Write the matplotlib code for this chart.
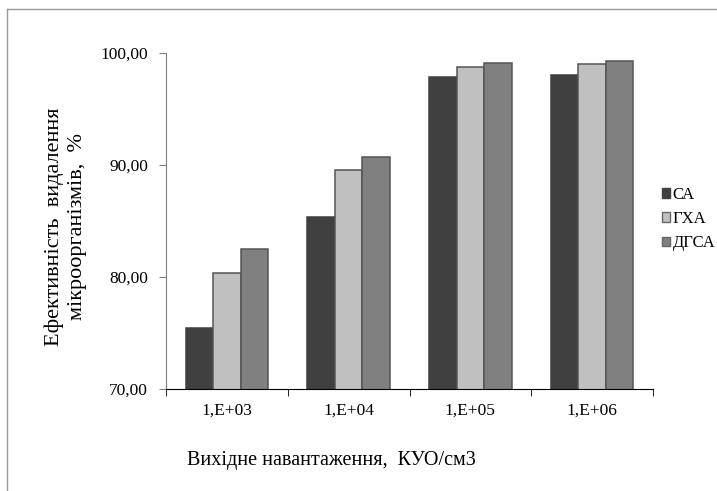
import numpy as np
import matplotlib.pyplot as plt
from matplotlib.patches import Patch
from matplotlib.lines import Line2D

plt.rcParams['font.family'] = ['Liberation Serif', 'DejaVu Serif']

# ----- data -----
categories = ["1,E+03", "1,E+04", "1,E+05", "1,E+06"]
series_names = ["СА", "ГХА", "ДГСА"]
sa = [75.4, 85.35, 97.85, 98.05]
gha = [80.3, 89.5, 98.75, 99.0]
dgsa = [82.5, 90.7, 99.1, 99.3]
colors = ["#404040", "#c0c0c0", "#808080"]

fig = plt.figure(figsize=(7.17, 4.91), dpi=100)
ax = fig.add_axes([166/717, 1-388.7/491, 487/717, 336/491])

x = np.arange(len(categories))
w = 0.226
for i, (vals, c) in enumerate(zip([sa, gha, dgsa], colors)):
    ec = c if i == 0 else "#555555"
    ax.bar(x + (i-1)*w, vals, w, color=c, edgecolor=ec, linewidth=1.1,
           label=series_names[i])

ax.set_ylim(70, 100)
ax.set_xlim(-0.5, len(categories)-0.5)
ax.set_yticks([70, 80, 90, 100])
ax.set_yticklabels(["70,00", "80,00", "90,00", "100,00"])
ax.set_xticks(x)
ax.set_xticklabels(categories)
ax.set_xticks(np.arange(-0.5, len(categories)), minor=True)
ax.tick_params(axis='x', which='major', length=0, pad=10, labelsize=12.5)
ax.tick_params(axis='x', which='minor', length=5, direction='out', color='black')
ax.tick_params(axis='y', length=5, direction='out', color='#808080', pad=8, labelsize=12.5)

for s in ['top', 'right']:
    ax.spines[s].set_visible(False)
ax.spines['left'].set_color('#808080')
ax.spines['bottom'].set_color('black')

fig.text(66/717, 1-227/491, "Ефективність  видалення\nмікроорганізмів,  %",
         rotation=90, ha='center', va='center', fontsize=16, linespacing=1.3)
fig.text(331/717, 1-460/491, "Вихідне навантаження,  КУО/см3",
         ha='center', va='center', fontsize=14.5)

handles = [Patch(facecolor=c, edgecolor=("#404040" if i == 0 else "#666666"), linewidth=1)
           for i, c in enumerate(colors)]
fig.legend(handles, series_names, loc='center left', bbox_to_anchor=(662/717, 1-219/491),
           frameon=False, fontsize=12, handlelength=0.5, handleheight=0.5,
           handletextpad=0.15, labelspacing=0.5, borderpad=0, borderaxespad=0)

# light frame around the chart
fig.add_artist(Line2D([7/717, 7/717], [0, 1-9/491], color='#999999', lw=1))
fig.add_artist(Line2D([7/717, 1], [1-9/491, 1-9/491], color='#999999', lw=1))

fig.savefig("out.png", dpi=100)
